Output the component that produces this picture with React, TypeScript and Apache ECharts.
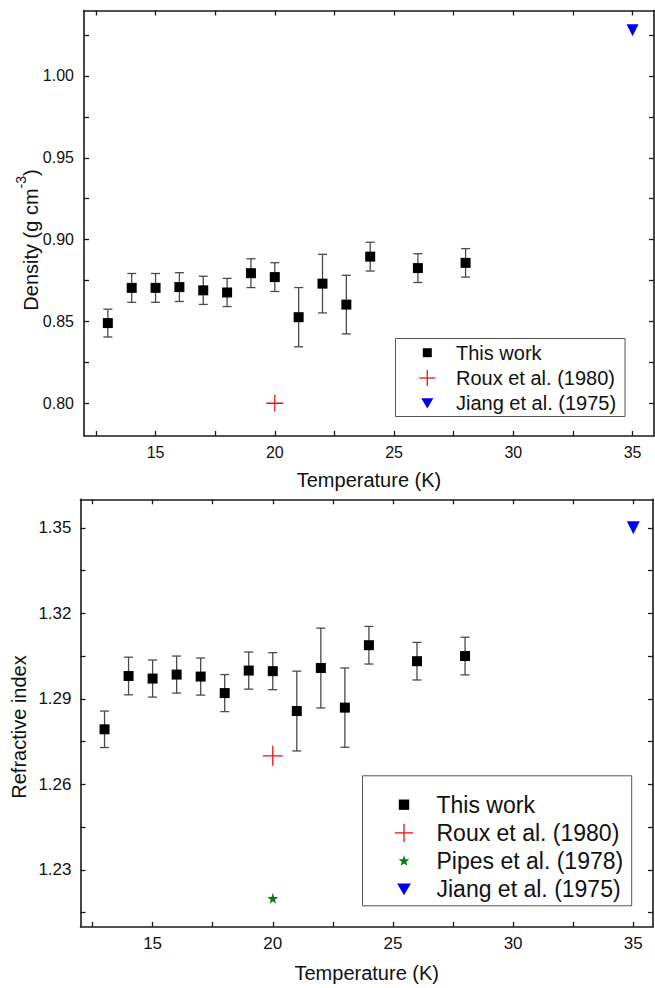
import React, { useEffect, useRef } from "react";
import * as echarts from "echarts";

const temperatures = [13, 14, 15, 16, 17, 18, 19, 20, 21, 22, 23, 24, 26, 28];
const densityValues = [0.849, 0.8705, 0.8705, 0.871, 0.869, 0.8677, 0.8795, 0.8771, 0.8526, 0.8731, 0.8603, 0.8896, 0.8826, 0.8858];
const densityErrors = [0.0085, 0.0088, 0.0088, 0.0088, 0.0086, 0.0086, 0.0088, 0.0088, 0.0181, 0.0179, 0.0179, 0.0088, 0.0088, 0.0087];
const refractiveValues = [1.2793, 1.298, 1.2971, 1.2985, 1.2978, 1.292, 1.2999, 1.2997, 1.2857, 1.3008, 1.2869, 1.3088, 1.3032, 1.305];
const refractiveErrors = [0.0064, 0.0066, 0.0065, 0.0065, 0.0065, 0.0065, 0.0065, 0.0065, 0.014, 0.014, 0.0139, 0.0066, 0.0066, 0.0066];

const rouxDensity = [[20, 0.8]];
const jiangDensity = [[35, 1.028]];
const rouxRefractive = [[20, 1.27]];
const pipesRefractive = [[20, 1.22]];
const jiangRefractive = [[35, 1.35]];

const xTickValues = [12.5, 15, 17.5, 20, 22.5, 25, 27.5, 30, 32.5, 35];
const xLabelValues = [15, 20, 25, 30, 35];
const densityTickValues = [0.8, 0.825, 0.85, 0.875, 0.9, 0.925, 0.95, 0.975, 1.0, 1.025];
const densityLabelValues = [0.8, 0.85, 0.9, 0.95, 1.0];
const refractiveTickValues = [1.215, 1.23, 1.245, 1.26, 1.275, 1.29, 1.305, 1.32, 1.335, 1.35];
const refractiveLabelValues = [1.23, 1.26, 1.29, 1.32, 1.35];

const NAME_THIS = "This work";
const NAME_ROUX = "Roux et al. (1980)";
const NAME_PIPES = "Pipes et al. (1978)";
const NAME_JIANG = "Jiang et al. (1975)";
const topLegend = [NAME_THIS, NAME_ROUX, NAME_JIANG];
const bottomLegend = [NAME_THIS, NAME_ROUX, NAME_PIPES, NAME_JIANG];

const FONT = "'Liberation Sans', Arial, Helvetica, sans-serif";
const AXIS_COLOR = "#1a1a1a";
const TEXT_COLOR = "#111";
const RED = "#e8141a";
const GREEN = "#0b7a12";
const BLUE = "#0000f0";
const PLUS_PATH = "path://M8,0L8,16M0,8L16,8";
const STAR_PATH = "path://M50,0L61,35L98,35L68,57L79,91L50,70L21,91L32,57L2,35L39,35Z";

const errorRender = (params: any, api: any) => {
  const x = api.value(0);
  const lo = api.value(1);
  const hi = api.value(2);
  const p1 = api.coord([x, lo]);
  const p2 = api.coord([x, hi]);
  const hw = 4.5;
  const style = { stroke: "#4a4a4a", lineWidth: 1.3, fill: "none" };
  return {
    type: "group",
    children: [
      { type: "line", shape: { x1: p1[0], y1: p1[1], x2: p2[0], y2: p2[1] }, style },
      { type: "line", shape: { x1: p1[0] - hw, y1: p1[1], x2: p1[0] + hw, y2: p1[1] }, style },
      { type: "line", shape: { x1: p2[0] - hw, y1: p2[1], x2: p2[0] + hw, y2: p2[1] }, style },
    ],
  };
};

function starPoints(cx: number, cy: number, r: number) {
  const pts: number[][] = [];
  for (let i = 0; i < 10; i++) {
    const rr = i % 2 === 0 ? r : r * 0.4;
    const a = -Math.PI / 2 + (i * Math.PI) / 5;
    pts.push([cx + rr * Math.cos(a), cy + rr * Math.sin(a)]);
  }
  return pts;
}

function legendSymbol(name: string, cx: number, cy: number, scale: number): any {
  if (name === NAME_THIS) {
    const s = 9 * scale;
    return { type: "rect", shape: { x: cx - s / 2, y: cy - s / 2, width: s, height: s }, style: { fill: "#000" } };
  }
  if (name === NAME_ROUX) {
    const h = 8 * scale;
    return {
      type: "group",
      children: [
        { type: "line", shape: { x1: cx - h, y1: cy, x2: cx + h, y2: cy }, style: { stroke: RED, lineWidth: 1.3 } },
        { type: "line", shape: { x1: cx, y1: cy - h, x2: cx, y2: cy + h }, style: { stroke: RED, lineWidth: 1.3 } },
      ],
    };
  }
  if (name === NAME_PIPES) {
    return { type: "polygon", shape: { points: starPoints(cx, cy, 5 * scale) }, style: { fill: GREEN } };
  }
  const w = 6 * scale;
  return {
    type: "polygon",
    shape: { points: [[cx - w, cy - w * 0.85], [cx + w, cy - w * 0.85], [cx, cy + w * 0.85]] },
    style: { fill: BLUE },
  };
}

function buildLegend(names: string[], box: { x: number; y: number; w: number; h: number }, firstY: number, gap: number, symX: number, textX: number, fontSize: number, scale: number) {
  const children: any[] = [
    { type: "rect", shape: { x: box.x, y: box.y, width: box.w, height: box.h }, style: { fill: "#fff", stroke: "#555", lineWidth: 1 } },
  ];
  names.forEach((n, i) => {
    const cy = firstY + i * gap;
    children.push(legendSymbol(n, symX, cy, scale));
    children.push({
      type: "text",
      x: textX,
      y: cy,
      style: { text: n, fontSize, fontFamily: FONT, fill: TEXT_COLOR, align: "left", verticalAlign: "middle" },
    });
  });
  return { type: "group", children, z: 100 };
}

function xAxes(gridIndex: number, max: number, labelSize: number, withName: boolean, nameGap: number) {
  const common = {
    type: "value",
    gridIndex,
    min: 12,
    max,
    splitLine: { show: false },
    axisLine: { show: true, onZero: false, lineStyle: { color: AXIS_COLOR, width: 1.6 } },
    axisTick: { show: true, inside: true, length: 5, customValues: xTickValues, lineStyle: { color: AXIS_COLOR, width: 1.3 } },
  };
  return [
    {
      ...common,
      position: "bottom",
      axisLabel: { show: true, customValues: xLabelValues, margin: 8, fontSize: labelSize, fontFamily: FONT, color: TEXT_COLOR },
      name: withName ? "Temperature (K)" : "",
      nameLocation: "middle",
      nameGap,
      nameTextStyle: { fontSize: 20, fontFamily: FONT, color: TEXT_COLOR },
    },
    { ...common, position: "top", axisLabel: { show: false } },
  ];
}

function yAxes(gridIndex: number, min: number, max: number, ticks: number[], labels: number[], labelSize: number, margin: number) {
  const common = {
    type: "value",
    gridIndex,
    min,
    max,
    splitLine: { show: false },
    axisLine: { show: true, onZero: false, lineStyle: { color: AXIS_COLOR, width: 1.6 } },
    axisTick: { show: true, inside: true, length: 5, customValues: ticks, lineStyle: { color: AXIS_COLOR, width: 1.3 } },
  };
  return [
    {
      ...common,
      position: "left",
      axisLabel: {
        show: true,
        customValues: labels,
        margin,
        fontSize: labelSize,
        fontFamily: FONT,
        color: TEXT_COLOR,
        formatter: (v: number) => v.toFixed(2),
      },
    },
    { ...common, position: "right", axisLabel: { show: false } },
  ];
}

export default function App() {
  const ref = useRef<HTMLDivElement>(null);
  useEffect(() => {
    if (!ref.current) return;
    const chart = echarts.init(ref.current, null, { renderer: "svg" });
    const squareStyle = { color: "#000", opacity: 1 };
    const option: any = {
      animation: false,
      backgroundColor: "#fff",
      grid: [
        { left: 84, top: 10.5, width: 570, height: 425.5 },
        { left: 80.5, top: 499.3, width: 572.5, height: 427.5 },
      ],
      xAxis: [...xAxes(0, 35.9, 16, true, 34), ...xAxes(1, 35.82, 17, true, 36)],
      yAxis: [
        ...yAxes(0, 0.78, 1.04, densityTickValues, densityLabelValues, 16, 10),
        ...yAxes(1, 1.21, 1.36, refractiveTickValues, refractiveLabelValues, 17, 9),
      ],
      series: [
        {
          type: "custom",
          name: "density-error",
          xAxisIndex: 0,
          yAxisIndex: 0,
          renderItem: errorRender,
          encode: { x: 0, y: [1, 2] },
          data: temperatures.map((t, i) => [t, densityValues[i] - densityErrors[i], densityValues[i] + densityErrors[i]]),
          z: 2,
        },
        {
          type: "scatter",
          name: NAME_THIS,
          xAxisIndex: 0,
          yAxisIndex: 0,
          symbol: "rect",
          symbolSize: 10,
          itemStyle: squareStyle,
          data: temperatures.map((t, i) => [t, densityValues[i]]),
          z: 3,
        },
        {
          type: "scatter",
          name: NAME_ROUX,
          xAxisIndex: 0,
          yAxisIndex: 0,
          symbol: PLUS_PATH,
          symbolSize: 17,
          itemStyle: { color: "transparent", borderColor: RED, borderWidth: 1.3, opacity: 1 },
          data: rouxDensity,
          z: 3,
        },
        {
          type: "scatter",
          name: NAME_JIANG,
          xAxisIndex: 0,
          yAxisIndex: 0,
          symbol: "triangle",
          symbolRotate: 180,
          symbolSize: 12,
          itemStyle: { color: BLUE, opacity: 1 },
          data: jiangDensity,
          z: 3,
        },
        {
          type: "custom",
          name: "refractive-error",
          xAxisIndex: 2,
          yAxisIndex: 2,
          renderItem: errorRender,
          encode: { x: 0, y: [1, 2] },
          data: temperatures.map((t, i) => [t, refractiveValues[i] - refractiveErrors[i], refractiveValues[i] + refractiveErrors[i]]),
          z: 2,
        },
        {
          type: "scatter",
          name: NAME_THIS,
          xAxisIndex: 2,
          yAxisIndex: 2,
          symbol: "rect",
          symbolSize: 10,
          itemStyle: squareStyle,
          data: temperatures.map((t, i) => [t, refractiveValues[i]]),
          z: 3,
        },
        {
          type: "scatter",
          name: NAME_ROUX,
          xAxisIndex: 2,
          yAxisIndex: 2,
          symbol: PLUS_PATH,
          symbolSize: 20,
          itemStyle: { color: "transparent", borderColor: RED, borderWidth: 1.3, opacity: 1 },
          data: rouxRefractive,
          z: 3,
        },
        {
          type: "scatter",
          name: NAME_PIPES,
          xAxisIndex: 2,
          yAxisIndex: 2,
          symbol: STAR_PATH,
          symbolSize: 11,
          itemStyle: { color: GREEN, opacity: 1 },
          data: pipesRefractive,
          z: 3,
        },
        {
          type: "scatter",
          name: NAME_JIANG,
          xAxisIndex: 2,
          yAxisIndex: 2,
          symbol: "triangle",
          symbolRotate: 180,
          symbolSize: 13,
          itemStyle: { color: BLUE, opacity: 1 },
          data: jiangRefractive,
          z: 3,
        },
      ],
      graphic: [
        buildLegend(topLegend, { x: 395.5, y: 338.5, w: 229.5, h: 78 }, 352.7, 25.3, 427.3, 456, 20, 1),
        buildLegend(bottomLegend, { x: 362.5, y: 775.8, w: 269.2, h: 130 }, 804.7, 28.2, 404, 436.5, 23, 1.15),
        {
          type: "text",
          x: 27,
          y: 240,
          rotation: Math.PI / 2,
          style: {
            text: "{m|Density (g cm}{s|-3}{m|)}",
            align: "center",
            verticalAlign: "middle",
            fill: TEXT_COLOR,
            rich: {
              m: { fontSize: 20, fontFamily: FONT, fill: TEXT_COLOR, lineHeight: 27, verticalAlign: "bottom" },
              s: { fontSize: 14, fontFamily: FONT, fill: TEXT_COLOR, lineHeight: 15, verticalAlign: "top" },
            },
          },
        },
        {
          type: "text",
          x: 19,
          y: 727,
          rotation: Math.PI / 2,
          style: {
            text: "Refractive index",
            align: "center",
            verticalAlign: "middle",
            fontSize: 20,
            fontFamily: FONT,
            fill: TEXT_COLOR,
          },
        },
      ],
    };
    chart.setOption(option);
    return () => chart.dispose();
  }, []);
  return <div ref={ref} style={{ position: "absolute", left: 0, top: 0, width: 655, height: 988 }} />;
}
